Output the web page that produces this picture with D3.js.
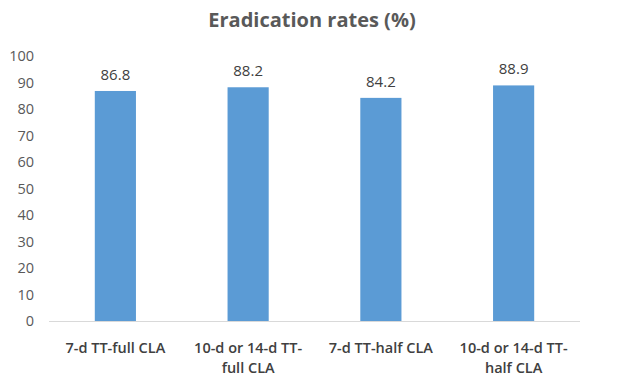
<!DOCTYPE html>
<html>
<head>
<meta charset="utf-8">
<script src="https://d3js.org/d3.v7.min.js"></script>
<style>
  body { margin: 0; background: #fff; }
  text { font-family: "Open Sans", "Liberation Sans", sans-serif; }
</style>
</head>
<body>
<svg id="chart" width="624" height="380"></svg>
<script>
var categories = [["7-d TT-full CLA"], ["10-d or 14-d TT-", "full CLA"], ["7-d TT-half CLA"], ["10-d or 14-d TT-", "half CLA"]];
var rates = [86.8, 88.2, 84.2, 88.9];
var yTicks = [0, 10, 20, 30, 40, 50, 60, 70, 80, 90, 100];

var svg = d3.select("#chart");
var margin = {left: 49, right: 44, top: 56, bottom: 59};
var W = 624, H = 380;

var x = d3.scaleBand()
    .domain(d3.range(rates.length))
    .range([margin.left, W - margin.right])
    .paddingInner(0.69)
    .paddingOuter(0.345);

var y = d3.scaleLinear()
    .domain([0, 100])
    .range([H - margin.bottom, margin.top]);

svg.append("text")
    .attr("x", 312)
    .attr("y", 27)
    .attr("text-anchor", "middle")
    .attr("font-size", 20)
    .attr("font-weight", "bold")
    .attr("fill", "#595959")
    .text("Eradication rates (%)");

// y axis labels, no line
var yAxis = svg.append("g")
    .attr("transform", "translate(" + (margin.left - 15) + ",0)")
    .call(d3.axisLeft(y).tickValues(yTicks).tickSize(0).tickPadding(0));
yAxis.select(".domain").remove();
yAxis.selectAll("text")
    .attr("font-size", 14.5)
    .attr("fill", "#595959")
    .style("font-family", "'Open Sans', sans-serif");

svg.selectAll("rect.bar")
    .data(rates)
    .enter().append("rect")
    .attr("class", "bar")
    .attr("x", function(d, i) { return x(i); })
    .attr("y", function(d) { return y(d); })
    .attr("width", x.bandwidth())
    .attr("height", function(d) { return y(0) - y(d); })
    .attr("fill", "#5b9bd5");

svg.selectAll("text.val")
    .data(rates)
    .enter().append("text")
    .attr("class", "val")
    .attr("x", function(d, i) { return x(i) + x.bandwidth() / 2; })
    .attr("y", function(d) { return y(d) - 11; })
    .attr("text-anchor", "middle")
    .attr("font-size", 15)
    .attr("fill", "#404040")
    .text(function(d) { return d.toFixed(1); });

// baseline
svg.append("line")
    .attr("x1", margin.left)
    .attr("x2", W - margin.right)
    .attr("y1", y(0) + 0.5)
    .attr("y2", y(0) + 0.5)
    .attr("stroke", "#d9d9d9")
    .attr("stroke-width", 1);

var cat = svg.selectAll("text.cat")
    .data(categories)
    .enter().append("text")
    .attr("class", "cat")
    .attr("x", function(d, i) { return x(i) + x.bandwidth() / 2; })
    .attr("y", 353)
    .attr("text-anchor", "middle")
    .attr("font-size", 14.5)
    .attr("font-weight", 600)
    .attr("fill", "#404040");
cat.selectAll("tspan")
    .data(function(d) { return d; })
    .enter().append("tspan")
    .attr("x", function() { return d3.select(this.parentNode).attr("x"); })
    .attr("dy", function(d, i) { return i === 0 ? 0 : 20; })
    .text(function(d) { return d; });
</script>
</body>
</html>
